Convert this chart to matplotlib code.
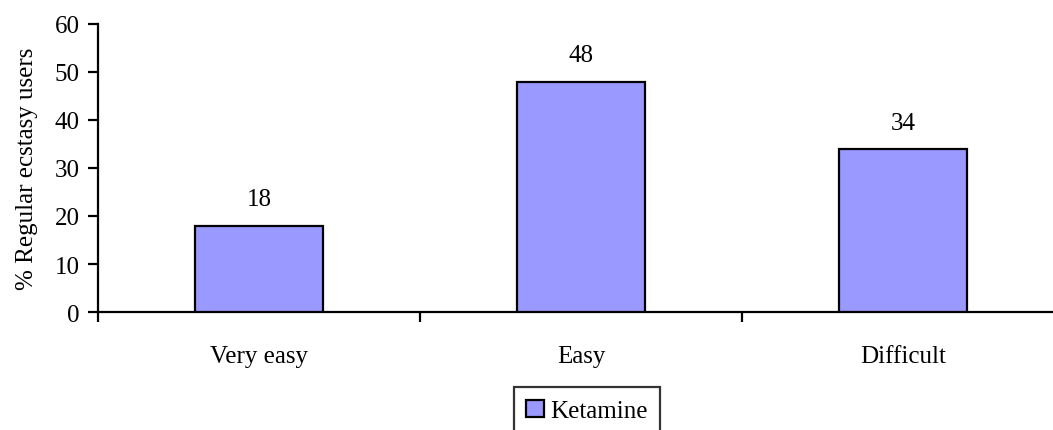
import matplotlib.pyplot as plt
import numpy as np

categories = ["Very easy", "Easy", "Difficult"]
values = [18, 48, 34]
series_name = "Ketamine"
y_ticks = [0, 10, 20, 30, 40, 50, 60]

plt.rcParams["font.family"] = ["Liberation Serif", "DejaVu Serif"]
plt.rcParams["font.size"] = 18

fig = plt.figure(figsize=(10.53, 4.31), dpi=100)
ax = fig.add_axes([98 / 1053, 1 - 313 / 431, 966 / 1053, 288 / 431])

x = np.arange(len(categories))
bars = ax.bar(x, values, width=0.4, color="#9999FF", edgecolor="black",
              linewidth=1.6, label=series_name, zorder=3)

for xi, v in zip(x, values):
    ax.annotate(str(v), (xi, v), xytext=(0, 11), textcoords="offset points",
                ha="center", va="bottom")

ax.set_xlim(-0.5, len(categories) - 0.5)
ax.set_ylim(0, 60)
ax.set_yticks(y_ticks)
ax.set_xticks(x)
ax.set_xticklabels(categories)
ax.set_xticks(np.arange(-0.5, len(categories)), minor=True)
ax.tick_params(axis="x", which="major", length=0, pad=24)
ax.tick_params(axis="x", which="minor", length=7, width=1.6, direction="out")
ax.tick_params(axis="y", length=7, width=1.6, direction="out", pad=6)
ax.set_ylabel("% Regular ecstasy users", labelpad=12)

for s in ["top", "right"]:
    ax.spines[s].set_visible(False)
for s in ["left", "bottom"]:
    ax.spines[s].set_linewidth(1.6)

leg = fig.legend(handles=[bars], labels=[series_name], loc="upper center",
                 bbox_to_anchor=(587 / 1053, 1 - 388 / 431), frameon=True,
                 fancybox=False, edgecolor="black", handlelength=0.7,
                 handleheight=0.7, handletextpad=0.25, borderpad=0.5,
                 borderaxespad=0)
leg.get_frame().set_linewidth(1.6)

fig.savefig("out.png", dpi=100)
